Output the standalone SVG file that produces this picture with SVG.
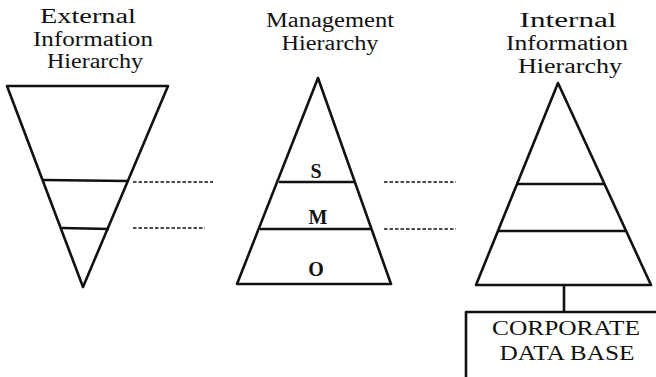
<svg xmlns="http://www.w3.org/2000/svg" width="656" height="377" viewBox="0 0 656 377">
  <style>
    .title { font-family: "Liberation Serif", "Times New Roman", serif; font-size: 20px; fill: #111; text-anchor: middle; }
    .lvl { font-family: "Liberation Serif", "Times New Roman", serif; font-size: 20px; font-weight: bold; fill: #111; text-anchor: middle; }
    .db { font-family: "Liberation Serif", "Times New Roman", serif; font-size: 20px; fill: #111; text-anchor: middle; }
    .shape { fill: none; stroke: #111; stroke-width: 2.6; stroke-linejoin: round; }
    .band { stroke: #111; stroke-width: 2.6; }
    .dash { stroke: #111; stroke-width: 1.6; stroke-dasharray: 3.5 2; }
  </style>

  <rect width="656" height="377" fill="#fff"/>

  <!-- external information hierarchy: inverted triangle -->
  <g id="external">
    <text class="title" x="88" y="23" textLength="96" lengthAdjust="spacingAndGlyphs">External</text>
    <text class="title" x="93" y="46" textLength="120" lengthAdjust="spacingAndGlyphs">Information</text>
    <text class="title" x="95" y="68" textLength="96" lengthAdjust="spacingAndGlyphs">Hierarchy</text>
    <polygon class="shape" points="7,86 168,86 83,287"/>
    <line class="band" x1="43" y1="180" x2="128" y2="181"/>
    <line class="band" x1="62" y1="228" x2="109" y2="229"/>
  </g>

  <!-- management hierarchy: pyramid with S / M / O levels -->
  <g id="management">
    <text class="title" x="330" y="27" textLength="128" lengthAdjust="spacingAndGlyphs">Management</text>
    <text class="title" x="330" y="50" textLength="97" lengthAdjust="spacingAndGlyphs">Hierarchy</text>
    <polygon class="shape" points="318,78 391,284 237,284"/>
    <line class="band" x1="279" y1="182" x2="355" y2="182"/>
    <line class="band" x1="260" y1="229" x2="372" y2="229"/>
    <text class="lvl" x="316" y="178">S</text>
    <text class="lvl" x="318" y="224">M</text>
    <text class="lvl" x="316" y="276">O</text>
  </g>

  <!-- internal information hierarchy: pyramid -->
  <g id="internal">
    <text class="title" x="568" y="27" textLength="97" lengthAdjust="spacingAndGlyphs">Internal</text>
    <text class="title" x="567" y="50" textLength="122" lengthAdjust="spacingAndGlyphs">Information</text>
    <text class="title" x="570" y="73" textLength="104" lengthAdjust="spacingAndGlyphs">Hierarchy</text>
    <polygon class="shape" points="558,83 651,285 476,285"/>
    <line class="band" x1="516" y1="184" x2="605" y2="184"/>
    <line class="band" x1="497" y1="231" x2="625" y2="231"/>
  </g>

  <!-- corporate data base box -->
  <g id="database">
    <path class="shape" d="M466,377 V312 H656" stroke-width="2"/>
    <text class="db" x="566" y="335" textLength="148" lengthAdjust="spacingAndGlyphs">CORPORATE</text>
    <text class="db" x="567" y="360" textLength="135" lengthAdjust="spacingAndGlyphs">DATA BASE</text>
  </g>

  <!-- connectors: level correspondences and database link -->
  <g id="connectors">
    <line class="dash" x1="133" y1="182" x2="213" y2="182"/>
    <line class="dash" x1="133" y1="228" x2="205" y2="228"/>
    <line class="dash" x1="384" y1="182" x2="456" y2="182"/>
    <line class="dash" x1="384" y1="229" x2="456" y2="229"/>
    <line class="band" x1="564" y1="285" x2="564" y2="312" stroke-width="2"/>
  </g>
</svg>
